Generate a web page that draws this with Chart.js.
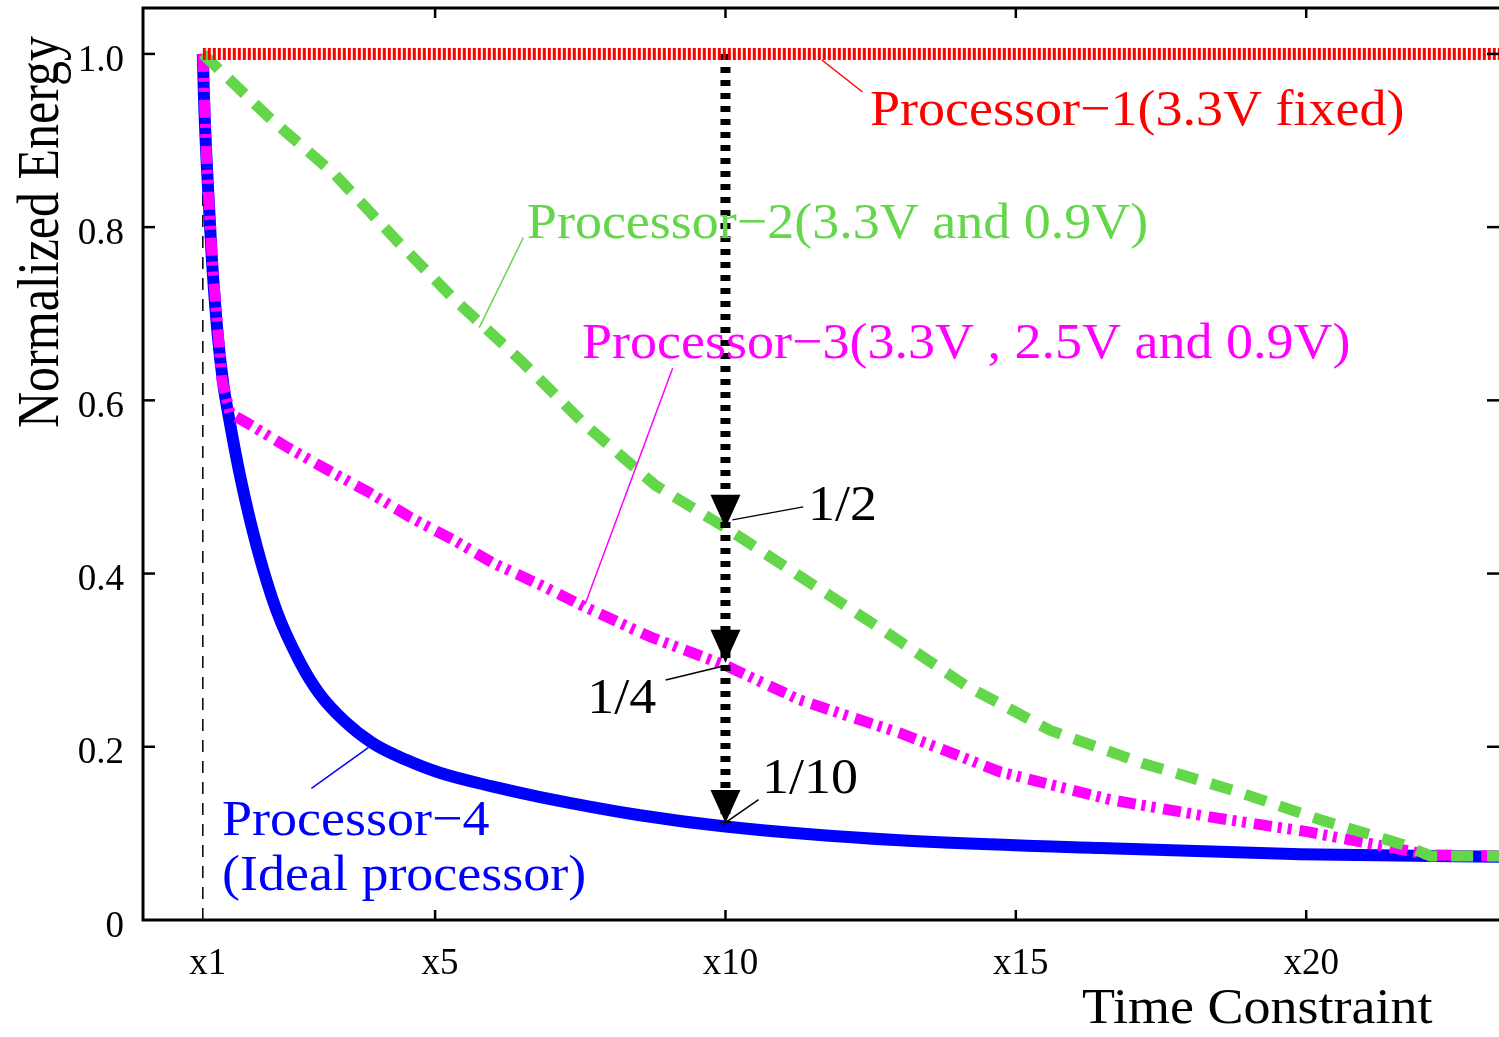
<!DOCTYPE html>
<html lang="en">
<head>
    <meta charset="UTF-8">
    <title>Normalized Energy vs Time Constraint</title>
    <script src="https://cdn.jsdelivr.net/npm/chart.js"></script>
    <style>
        body {
            margin: 0;
            background-color: #ffffff;
        }

        #energyChart {
            display: block;
        }
    </style>
</head>
<body>
    <canvas id="energyChart" width="1499" height="1037"></canvas>

    <script>
        // axis ticks
        const xTicks = [1, 5, 10, 15, 20];
        const xTickLabels = ['x1', 'x5', 'x10', 'x15', 'x20'];
        const yTicks = [0, 0.2, 0.4, 0.6, 0.8, 1.0];
        const yTickLabels = ['0', '0.2', '0.4', '0.6', '0.8', '1.0'];

        // Processor-1 (3.3V fixed)
        const p1X = [1, 23.32];
        const p1Y = [1.0, 1.0];

        // Processor-2 (3.3V and 0.9V)
        const p2X = [1, 2.15, 3.27, 4.36, 5.34, 6.46, 7.58, 8.79, 10, 11.37, 12.75, 14.13, 15.59, 17.18, 18.73, 20.28, 21.67, 22.14, 23.32];
        const p2Y = [1.0, 0.926, 0.861, 0.783, 0.716, 0.647, 0.572, 0.502, 0.453, 0.393, 0.333, 0.271, 0.219, 0.181, 0.150, 0.115, 0.087, 0.074, 0.074];

        // Processor-3 (3.3V, 2.5V and 0.9V)
        const p3X = [1, 1.07, 1.17, 1.33, 1.47, 1.76, 2.45, 3.14, 3.88, 4.57, 5.31, 6.0, 6.81, 7.5, 8.7, 10, 11.28, 13.0, 14.73, 16.62, 18.34, 20.01, 21.67, 22.13, 23.32];
        const p3Y = [1.0, 0.87, 0.754, 0.624, 0.585, 0.574, 0.546, 0.520, 0.493, 0.465, 0.439, 0.412, 0.387, 0.364, 0.327, 0.294, 0.254, 0.216, 0.171, 0.139, 0.119, 0.102, 0.081, 0.075, 0.074];

        // Processor-4 (ideal processor)
        const p4X = [1, 1.02, 1.07, 1.15, 1.25, 1.35, 1.45, 1.65, 1.93, 2.27, 2.67, 3.0, 3.45, 3.93, 4.5, 5.08, 6.0, 6.81, 8.53, 10, 13.0, 16.45, 19.9, 23.32];
        const p4Y = [1.0, 0.95, 0.87, 0.77, 0.68, 0.62, 0.58, 0.51, 0.431, 0.357, 0.298, 0.262, 0.229, 0.204, 0.185, 0.170, 0.154, 0.142, 0.121, 0.108, 0.092, 0.083, 0.076, 0.073];

        // x1 guide and the x10 arrow
        const guideX = [1, 1];
        const guideY = [0, 1.0];
        const arrowX = [10, 10];
        const arrowY = [1.0, 0.112];
        const arrowTips = [0.453, 0.297, 0.112];

        const serif = "'Liberation Serif', 'DejaVu Serif', serif";
        const green = '#63d64a';

        const toPoints = (xs, ys) => xs.map((x, i) => ({ x: x, y: ys[i] }));

        // labels placed in data coordinates, pointer lines from -> to
        const notes = [
            { text: 'Processor\u22121(3.3V fixed)', x: 12.49, y: 0.918, color: '#ff0000', line: [11.66, 0.993, 12.36, 0.956] },
            { text: 'Processor\u22122(3.3V and 0.9V)', x: 6.58, y: 0.787, color: green, line: [6.52, 0.788, 5.76, 0.684] },
            { text: 'Processor\u22123(3.3V , 2.5V and 0.9V)', x: 7.53, y: 0.649, color: '#ff00ff', line: [9.09, 0.637, 7.58, 0.364] },
            { text: '1/2', x: 11.42, y: 0.462, color: '#000000', line: [11.34, 0.477, 10.12, 0.462] },
            { text: '1/4', x: 7.62, y: 0.239, color: '#000000', line: [8.97, 0.277, 9.95, 0.293] },
            { text: '1/10', x: 10.63, y: 0.147, color: '#000000', line: [10.57, 0.139, 9.95, 0.110] },
            { text: 'Processor\u22124', x: 1.33, y: 0.098, color: '#0000ff', line: [2.87, 0.152, 3.85, 0.199] },
            { text: '(Ideal processor)', x: 1.33, y: 0.035, color: '#0000ff', line: null }
        ];

        const decorations = {
            id: 'decorations',
            afterDatasetsDraw(chart) {
                const { ctx, chartArea: a, scales } = chart;
                const sx = scales.x, sy = scales.y;
                const seg = (x1, y1, x2, y2) => {
                    ctx.beginPath();
                    ctx.moveTo(x1, y1);
                    ctx.lineTo(x2, y2);
                    ctx.stroke();
                };
                ctx.save();

                // frame
                ctx.strokeStyle = '#000';
                ctx.lineWidth = 3;
                ctx.beginPath();
                ctx.moveTo(a.right, a.top);
                ctx.lineTo(a.left, a.top);
                ctx.lineTo(a.left, a.bottom);
                ctx.lineTo(a.right, a.bottom);
                ctx.stroke();

                // inward ticks
                ctx.lineWidth = 2.5;
                xTicks.slice(1).forEach(v => {
                    const px = sx.getPixelForValue(v);
                    seg(px, a.bottom, px, a.bottom - 10);
                    seg(px, a.top, px, a.top + 10);
                });
                yTicks.slice(1).forEach(v => {
                    const py = sy.getPixelForValue(v);
                    seg(a.left, py, a.left + 12, py);
                    seg(a.right, py, a.right - 12, py);
                });

                // arrow heads
                ctx.fillStyle = '#000';
                const ax = sx.getPixelForValue(arrowX[0]);
                arrowTips.forEach(v => {
                    const py = sy.getPixelForValue(v);
                    ctx.beginPath();
                    ctx.moveTo(ax, py);
                    ctx.lineTo(ax - 15, py - 33);
                    ctx.lineTo(ax + 15, py - 33);
                    ctx.closePath();
                    ctx.fill();
                });

                // annotations
                ctx.font = '50px ' + serif;
                ctx.textAlign = 'left';
                ctx.textBaseline = 'alphabetic';
                notes.forEach(n => {
                    ctx.strokeStyle = n.color;
                    ctx.fillStyle = n.color;
                    if (n.line) {
                        ctx.lineWidth = 1.5;
                        seg(sx.getPixelForValue(n.line[0]), sy.getPixelForValue(n.line[1]),
                            sx.getPixelForValue(n.line[2]), sy.getPixelForValue(n.line[3]));
                    }
                    ctx.save();
                    ctx.translate(sx.getPixelForValue(n.x), sy.getPixelForValue(n.y));
                    ctx.scale(1.08, 1);
                    ctx.fillText(n.text, 0, 0);
                    ctx.restore();
                });

                // axis titles
                ctx.fillStyle = '#000';
                ctx.save();
                ctx.translate(1082, 1023);
                ctx.scale(1.08, 1);
                ctx.fillText('Time Constraint', 0, 0);
                ctx.restore();

                ctx.save();
                ctx.translate(58, 428);
                ctx.scale(1.2, 1);
                ctx.rotate(-Math.PI / 2);
                ctx.fillText('Normalized Energy', 0, 0);
                ctx.restore();

                ctx.restore();
            }
        };

        Chart.defaults.font.family = serif;
        Chart.defaults.color = '#000';

        new Chart(document.getElementById('energyChart'), {
            type: 'line',
            data: {
                datasets: [
                    {
                        label: 'Processor-1',
                        data: toPoints(p1X, p1Y),
                        borderColor: '#ff0000',
                        borderWidth: 12,
                        borderDash: [3, 2]
                    },
                    {
                        label: 'arrow',
                        data: toPoints(arrowX, arrowY),
                        borderColor: '#000000',
                        borderWidth: 10,
                        borderDash: [6, 7]
                    },
                    {
                        label: 'Processor-2',
                        data: toPoints(p2X, p2Y),
                        borderColor: green,
                        borderWidth: 11,
                        borderDash: [22, 14]
                    },
                    {
                        label: 'Processor-3',
                        data: toPoints(p3X, p3Y),
                        borderColor: '#ff00ff',
                        borderWidth: 11,
                        borderDash: [18, 6, 4, 6, 4, 8]
                    },
                    {
                        label: 'Processor-4',
                        data: toPoints(p4X, p4Y),
                        borderColor: '#0000ff',
                        borderWidth: 12,
                        cubicInterpolationMode: 'monotone'
                    },
                    {
                        label: 'x1',
                        data: toPoints(guideX, guideY),
                        borderColor: '#000000',
                        borderWidth: 1.5,
                        borderDash: [12, 9]
                    }
                ]
            },
            options: {
                responsive: false,
                animation: false,
                devicePixelRatio: 1,
                layout: { padding: { top: 8, right: 0, bottom: 0, left: 0 } },
                elements: { point: { radius: 0 } },
                plugins: {
                    legend: { display: false },
                    tooltip: { enabled: false }
                },
                scales: {
                    x: {
                        type: 'linear',
                        min: -0.03,
                        max: 23.32,
                        grid: { display: false, drawTicks: false },
                        border: { display: false },
                        afterBuildTicks: scale => { scale.ticks = xTicks.map(v => ({ value: v })); },
                        afterFit: scale => {
                            scale.height = 117;
                            scale.paddingLeft = 0;
                            scale.paddingRight = 0;
                        },
                        ticks: {
                            autoSkip: false,
                            maxRotation: 0,
                            padding: 22,
                            labelOffset: 5,
                            font: { size: 37 },
                            callback: (value, index) => xTickLabels[index]
                        }
                    },
                    y: {
                        min: 0,
                        max: 1.053,
                        grid: { display: false, drawTicks: false },
                        border: { display: false },
                        afterBuildTicks: scale => { scale.ticks = yTicks.map(v => ({ value: v })); },
                        afterFit: scale => {
                            scale.width = 143;
                            scale.paddingTop = 0;
                            scale.paddingBottom = 0;
                        },
                        ticks: {
                            padding: 19,
                            labelOffset: 7,
                            font: { size: 37 },
                            callback: (value, index) => yTickLabels[index]
                        }
                    }
                }
            },
            plugins: [decorations]
        });
    </script>
</body>
</html>
